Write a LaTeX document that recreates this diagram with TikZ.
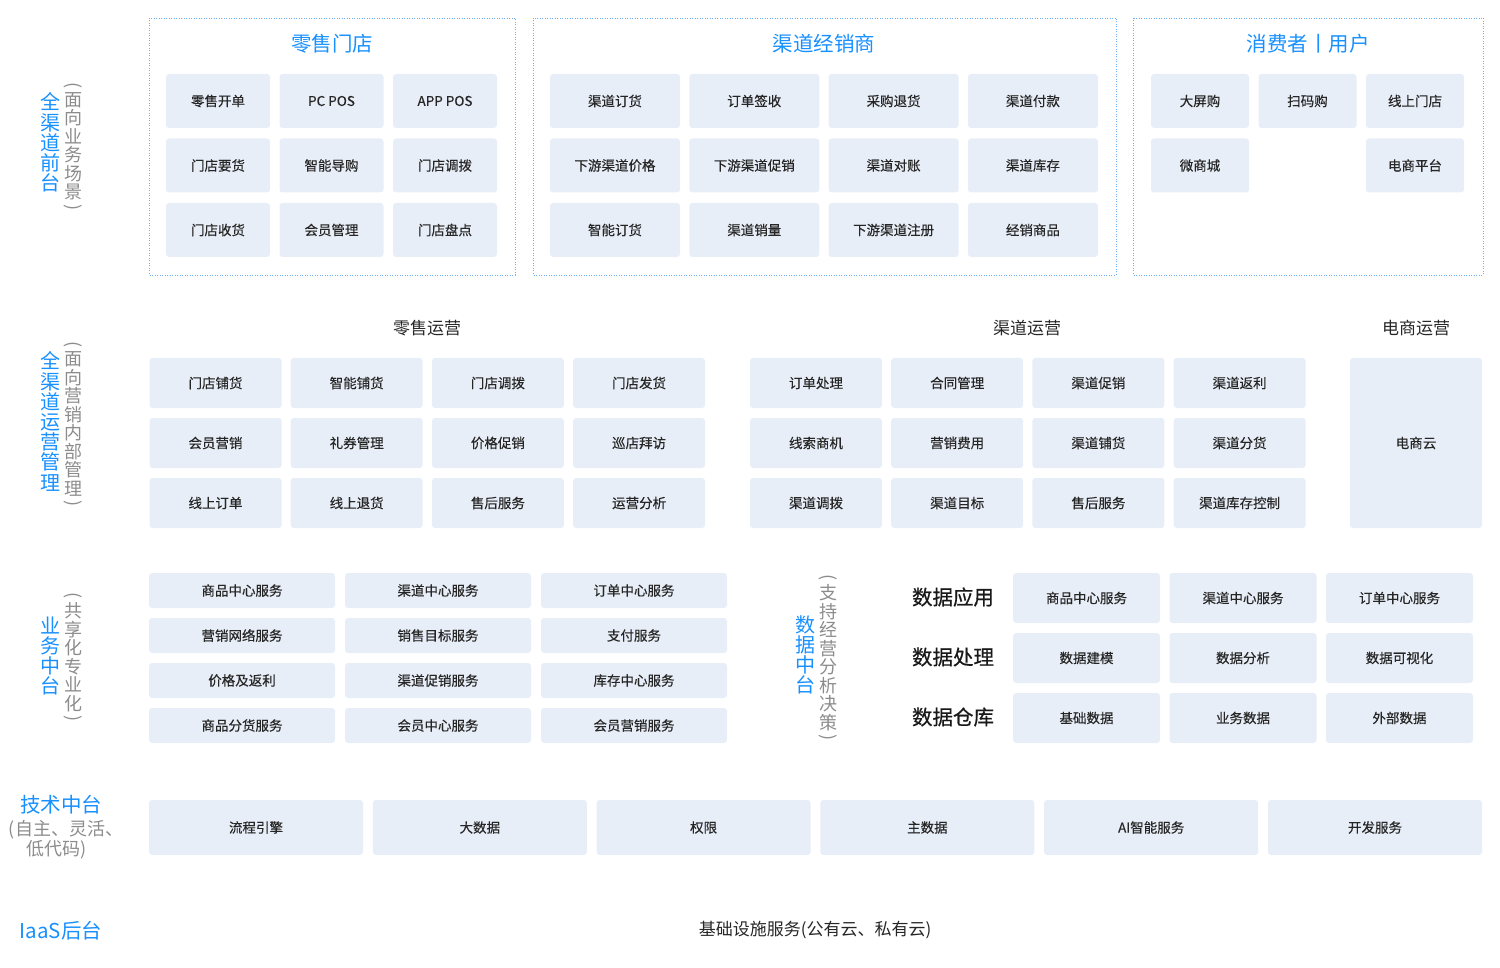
\documentclass[tikz,border=0pt]{standalone}
\usepackage{fontspec}
\usepackage{graphicx}
\setmainfont{Noto Sans CJK SC}
\newfontfamily\cellfont[FakeBold=0.3]{Noto Sans CJK SC}
\newfontfamily\headfont[FakeBold=0.6]{Noto Sans CJK SC}
\usetikzlibrary{positioning}
\definecolor{cellbg}{HTML}{E8EEF7}
\definecolor{titleblue}{HTML}{1890FF}
\definecolor{notegray}{HTML}{8C8C8C}
\definecolor{celltext}{HTML}{262626}
\definecolor{frameblue}{HTML}{6AAFF5}

\begin{document}
\begin{tikzpicture}[x=1pt,y=-1pt,
  cell/.style={fill=cellbg,rounded corners=3pt,inner sep=0pt,outer sep=0pt,
    text=celltext,font=\cellfont\fontsize{13.5}{16}\selectfont},
  store cell/.style={cell,minimum width=104pt,minimum height=54pt},
  dealer cell/.style={cell,minimum width=130pt,minimum height=54pt},
  user cell/.style={cell,minimum width=98pt,minimum height=54pt},
  ops cell/.style={cell,minimum width=132pt,minimum height=50pt},
  biz cell/.style={cell,minimum width=186pt,minimum height=35pt},
  data cell/.style={cell,minimum width=147pt,minimum height=50pt},
  tech cell/.style={cell,minimum width=214pt,minimum height=55pt},
  group/.style={draw=frameblue,dash pattern=on 1pt off 1.5pt,line width=0.9pt},
  group title/.style={text=titleblue,font=\fontsize{20.5}{24}\selectfont},
  layer title/.style={text=titleblue,align=center,inner sep=0pt,font=\fontsize{20}{20.2}\selectfont},
  layer note/.style={text=notegray,align=center,inner sep=0pt,font=\fontsize{18}{18.5}\selectfont},
  note paren/.style={text=notegray,inner sep=0pt,font=\fontsize{18}{18.5}\selectfont},
  section title/.style={text=black!85,font=\fontsize{17}{20}\selectfont},
  data title/.style={text=black!90,font=\headfont\fontsize{20.5}{24}\selectfont}]
  \useasboundingbox (0,0) rectangle (1500,968);

  % front layer
  \node[layer title] (front) at (50,142.5) {全\\渠\\道\\前\\台};
  \node[layer note] (front note) at (73,146.5) {面\\向\\业\\务\\场\\景};
  \node[note paren,above=3.5pt of front note] (front open) {\rotatebox{-90}{(}};
  \node[note paren,below=3.5pt of front note] (front close) {\rotatebox{-90}{)}};

  \draw[group] (149,18) rectangle (515,275);
  \node[group title] (store) at (332,44) {零售门店};
  \node[store cell] (s11) at (218,101) {零售开单};
  \node[store cell,right=9.5pt of s11] (s12) {PC POS};
  \node[store cell,right=9.5pt of s12] (s13) {APP POS};
  \node[store cell,below=10.5pt of s11] (s21) {门店要货};
  \node[store cell,right=9.5pt of s21] (s22) {智能导购};
  \node[store cell,right=9.5pt of s22] (s23) {门店调拨};
  \node[store cell,below=10.5pt of s21] (s31) {门店收货};
  \node[store cell,right=9.5pt of s31] (s32) {会员管理};
  \node[store cell,right=9.5pt of s32] (s33) {门店盘点};

  \draw[group] (533,18) rectangle (1116,275);
  \node[group title] (dealer) at (824,44) {渠道经销商};
  \node[dealer cell] (d11) at (615,101) {渠道订货};
  \node[dealer cell,right=9.3pt of d11] (d12) {订单签收};
  \node[dealer cell,right=9.3pt of d12] (d13) {采购退货};
  \node[dealer cell,right=9.3pt of d13] (d14) {渠道付款};
  \node[dealer cell,below=10.5pt of d11] (d21) {下游渠道价格};
  \node[dealer cell,right=9.3pt of d21] (d22) {下游渠道促销};
  \node[dealer cell,right=9.3pt of d22] (d23) {渠道对账};
  \node[dealer cell,right=9.3pt of d23] (d24) {渠道库存};
  \node[dealer cell,below=10.5pt of d21] (d31) {智能订货};
  \node[dealer cell,right=9.3pt of d31] (d32) {渠道销量};
  \node[dealer cell,right=9.3pt of d32] (d33) {下游渠道注册};
  \node[dealer cell,right=9.3pt of d33] (d34) {经销商品};

  \draw[group] (1133,18) rectangle (1483,275);
  \node[group title] (user) at (1308,44) {消费者丨用户};
  \node[user cell] (c11) at (1200,101) {大屏购};
  \node[user cell,right=9.5pt of c11] (c12) {扫码购};
  \node[user cell,right=9.5pt of c12] (c13) {线上门店};
  \node[user cell,below=10.5pt of c11] (c21) {微商城};
  \node[user cell,below=10.5pt of c13] (c23) {电商平台};

  % operation layer
  \node[layer title] (ops) at (50,421.5) {全\\渠\\道\\运\\营\\管\\理};
  \node[layer note] (ops note) at (73,424) {面\\向\\营\\销\\内\\部\\管\\理};
  \node[note paren,above=3.5pt of ops note] (ops open) {\rotatebox{-90}{(}};
  \node[note paren,below=3.5pt of ops note] (ops close) {\rotatebox{-90}{)}};

  \node[section title] (retail) at (427,328) {零售运营};
  \node[ops cell] (r11) at (215.5,383) {门店铺货};
  \node[ops cell,right=9.2pt of r11] (r12) {智能铺货};
  \node[ops cell,right=9.2pt of r12] (r13) {门店调拨};
  \node[ops cell,right=9.2pt of r13] (r14) {门店发货};
  \node[ops cell,below=10pt of r11] (r21) {会员营销};
  \node[ops cell,right=9.2pt of r21] (r22) {礼券管理};
  \node[ops cell,right=9.2pt of r22] (r23) {价格促销};
  \node[ops cell,right=9.2pt of r23] (r24) {巡店拜访};
  \node[ops cell,below=10pt of r21] (r31) {线上订单};
  \node[ops cell,right=9.2pt of r31] (r32) {线上退货};
  \node[ops cell,right=9.2pt of r32] (r33) {售后服务};
  \node[ops cell,right=9.2pt of r33] (r34) {运营分析};

  \node[section title] (channel) at (1027,328) {渠道运营};
  \node[ops cell] (k11) at (816,383) {订单处理};
  \node[ops cell,right=9.2pt of k11] (k12) {合同管理};
  \node[ops cell,right=9.2pt of k12] (k13) {渠道促销};
  \node[ops cell,right=9.2pt of k13] (k14) {渠道返利};
  \node[ops cell,below=10pt of k11] (k21) {线索商机};
  \node[ops cell,right=9.2pt of k21] (k22) {营销费用};
  \node[ops cell,right=9.2pt of k22] (k23) {渠道铺货};
  \node[ops cell,right=9.2pt of k23] (k24) {渠道分货};
  \node[ops cell,below=10pt of k21] (k31) {渠道调拨};
  \node[ops cell,right=9.2pt of k31] (k32) {渠道目标};
  \node[ops cell,right=9.2pt of k32] (k33) {售后服务};
  \node[ops cell,right=9.2pt of k33] (k34) {渠道库存控制};

  \node[section title] (ecom) at (1416,328) {电商运营};
  \node[ops cell,minimum height=170pt] (cloud) at (1416,443) {电商云};

  % business layer
  \node[layer title] (biz) at (50,656) {业\\务\\中\\台};
  \node[layer note] (biz note) at (73,657) {共\\享\\化\\专\\业\\化};
  \node[note paren,above=3.5pt of biz note] (biz open) {\rotatebox{-90}{(}};
  \node[note paren,below=3.5pt of biz note] (biz close) {\rotatebox{-90}{)}};
  \node[biz cell] (b11) at (242,590.5) {商品中心服务};
  \node[biz cell,right=10pt of b11] (b12) {渠道中心服务};
  \node[biz cell,right=10pt of b12] (b13) {订单中心服务};
  \node[biz cell,below=10pt of b11] (b21) {营销网络服务};
  \node[biz cell,right=10pt of b21] (b22) {销售目标服务};
  \node[biz cell,right=10pt of b22] (b23) {支付服务};
  \node[biz cell,below=10pt of b21] (b31) {价格及返利};
  \node[biz cell,right=10pt of b31] (b32) {渠道促销服务};
  \node[biz cell,right=10pt of b32] (b33) {库存中心服务};
  \node[biz cell,below=10pt of b31] (b41) {商品分货服务};
  \node[biz cell,right=10pt of b41] (b42) {会员中心服务};
  \node[biz cell,right=10pt of b42] (b43) {会员营销服务};

  % data layer
  \node[layer title] (data) at (805,655) {数\\据\\中\\台};
  \node[layer note] (data note) at (828,657.5) {支\\持\\经\\营\\分\\析\\决\\策};
  \node[note paren,above=3.5pt of data note] (data open) {\rotatebox{-90}{(}};
  \node[note paren,below=3.5pt of data note] (data close) {\rotatebox{-90}{)}};
  \node[data title] (app) at (953,597) {数据应用};
  \node[data title] (proc) at (953,657) {数据处理};
  \node[data title] (ware) at (953,717) {数据仓库};
  \node[data cell] (a11) at (1086.5,598) {商品中心服务};
  \node[data cell,right=9.5pt of a11] (a12) {渠道中心服务};
  \node[data cell,right=9.5pt of a12] (a13) {订单中心服务};
  \node[data cell,below=10pt of a11] (a21) {数据建模};
  \node[data cell,right=9.5pt of a21] (a22) {数据分析};
  \node[data cell,right=9.5pt of a22] (a23) {数据可视化};
  \node[data cell,below=10pt of a21] (a31) {基础数据};
  \node[data cell,right=9.5pt of a31] (a32) {业务数据};
  \node[data cell,right=9.5pt of a32] (a33) {外部数据};

  % tech layer
  \node[group title] (tech) at (61,805) {技术中台};
  \node[layer note,font=\fontsize{18}{19.5}\selectfont] (tech note) at (57,839.5) {(自主、灵活\rlap{、}\\低代码)};
  \node[tech cell] (t1) at (256,827.5) {流程引擎};
  \node[tech cell,right=9.8pt of t1] (t2) {大数据};
  \node[tech cell,right=9.8pt of t2] (t3) {权限};
  \node[tech cell,right=9.8pt of t3] (t4) {主数据};
  \node[tech cell,right=9.8pt of t4] (t5) {AI智能服务};
  \node[tech cell,right=9.8pt of t5] (t6) {开发服务};

  % iaas layer
  \node[group title] (iaas) at (61,931) {IaaS后台};
  \node[section title] (infra) at (815,930) {基础设施服务(公有云、私有云)};
\end{tikzpicture}
\end{document}
